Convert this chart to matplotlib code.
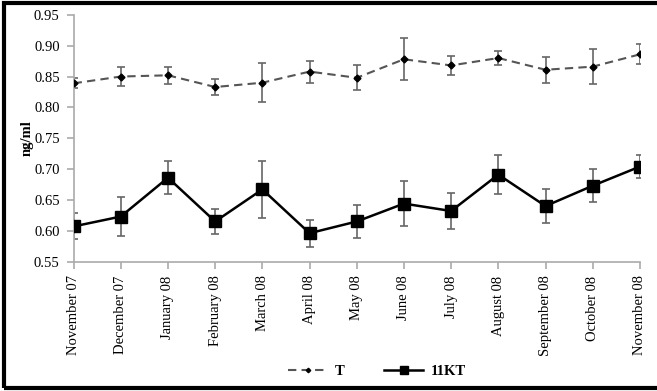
import matplotlib
matplotlib.use('Agg')
import matplotlib.pyplot as plt
from matplotlib.patches import Rectangle

plt.rcParams['font.family'] = ['Liberation Serif', 'DejaVu Serif']

# data
MONTHS = ['November 07', 'December 07', 'January 08', 'February 08', 'March 08',
          'April 08', 'May 08', 'June 08', 'July 08', 'August 08',
          'September 08', 'October 08', 'November 08']
T_MEAN = [0.839, 0.850, 0.852, 0.833, 0.840, 0.858, 0.848, 0.878, 0.868, 0.880, 0.861, 0.866, 0.886]
T_ERR = [0.008, 0.016, 0.014, 0.013, 0.032, 0.018, 0.020, 0.034, 0.016, 0.011, 0.021, 0.028, 0.016]
KT_MEAN = [0.607, 0.623, 0.686, 0.615, 0.667, 0.596, 0.615, 0.644, 0.632, 0.691, 0.640, 0.673, 0.704]
KT_ERR = [0.021, 0.031, 0.027, 0.020, 0.046, 0.022, 0.027, 0.036, 0.029, 0.031, 0.027, 0.027, 0.018]

fig = plt.figure(figsize=(6.57, 3.91), dpi=100)
ax = fig.add_axes([0.112, 0.331, 0.862, 0.631])

x = list(range(len(MONTHS)))
ax.errorbar(x, T_MEAN, yerr=T_ERR, fmt='none', ecolor='#666666', elinewidth=1.2,
            capsize=3, capthick=1.2, zorder=2)
ax.plot(x, T_MEAN, linestyle=(0, (4, 2.5)), color='#555555', linewidth=1.5,
        marker='D', markersize=3.5, markerfacecolor='black', markeredgecolor='black',
        label='T', zorder=3)
ax.errorbar(x, KT_MEAN, yerr=KT_ERR, fmt='none', ecolor='#666666', elinewidth=1.2,
            capsize=3, capthick=1.2, zorder=2)
ax.plot(x, KT_MEAN, linestyle='-', color='black', linewidth=1.8,
        marker='s', markersize=9, markerfacecolor='black', markeredgecolor='black',
        label='11KT', zorder=3)

ax.set_xlim(0, len(MONTHS) - 1)
ax.set_ylim(0.55, 0.95)
ax.set_yticks([0.55, 0.60, 0.65, 0.70, 0.75, 0.80, 0.85, 0.90, 0.95])
ax.set_yticklabels([f'{v:.2f}' for v in ax.get_yticks()], fontsize=10.5)
ax.set_xticks(x)
ax.set_xticklabels(MONTHS, rotation=90, fontsize=10.5)
ax.set_ylabel('ng/ml', fontsize=10.5, fontweight='bold')
ax.yaxis.set_label_coords(-0.071, 0.5)

for s in ['top', 'right']:
    ax.spines[s].set_visible(False)
for s in ['left', 'bottom']:
    ax.spines[s].set_color('#aaaaaa')
    ax.spines[s].set_linewidth(1.2)
ax.tick_params(direction='out', length=5, color='#aaaaaa', width=1.2, pad=5)

leg = fig.legend(loc='center', bbox_to_anchor=(0.574, 0.051), ncol=2, frameon=False,
                 prop={'size': 10.5, 'weight': 'bold'}, handlelength=2.7,
                 columnspacing=2.7, handletextpad=0.5, markerscale=0.65)

# outer frame
fig.patches.append(Rectangle((4 / 657, 3 / 391), 1.0, 385 / 391, transform=fig.transFigure,
                             fill=False, edgecolor='black', linewidth=3))

plt.savefig('out.png', dpi=100)
plt.close()
